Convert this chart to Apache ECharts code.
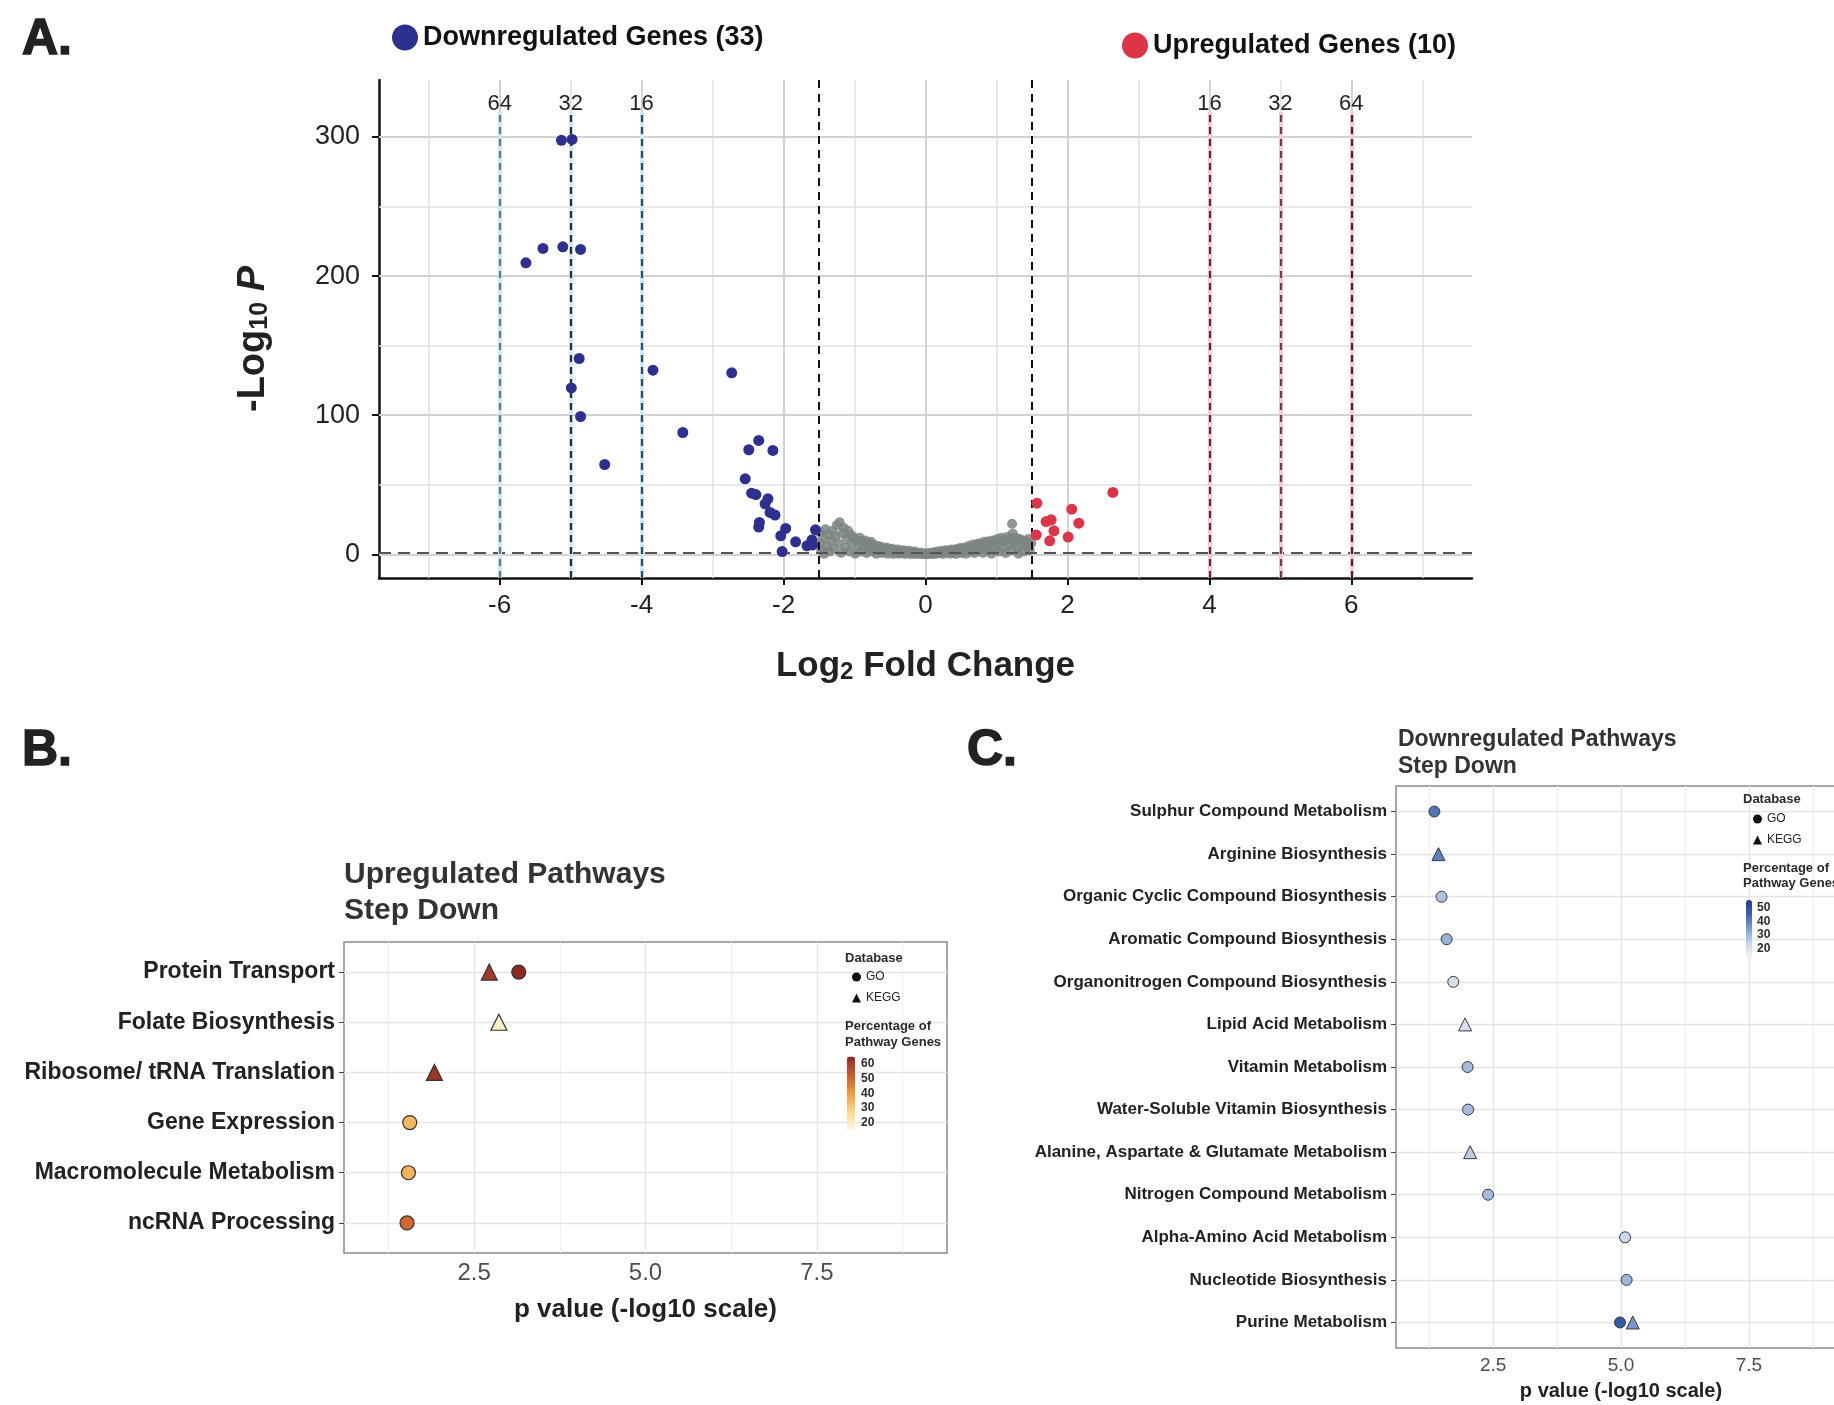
<!DOCTYPE html>
<html>
<head>
<meta charset="utf-8">
<title>Volcano plot and pathway enrichment</title>
<script src="https://cdn.jsdelivr.net/npm/echarts@6/dist/echarts.min.js"></script>
<style>
  html, body { margin: 0; padding: 0; background: #fff; }
  #chart { width: 1834px; height: 1405px; }
</style>
</head>
<body>
<div id="chart"></div>
<script>
// ---------- Panel A: volcano plot ----------
// [log2 fold change, -log10 p]
const downGenes = [
  [-5.13, 297.6], [-4.98, 298.3], [-5.63, 209.6], [-5.39, 219.9], [-5.11, 221.1],
  [-4.86, 219.2], [-4.88, 140.8], [-3.84, 132.4], [-2.73, 130.5], [-4.99, 119.6],
  [-4.86, 99.1], [-3.42, 87.6], [-4.52, 64.6], [-2.35, 81.9], [-2.49, 75.2],
  [-2.15, 74.7], [-2.54, 54.3], [-2.45, 44.0], [-2.39, 43.0], [-2.22, 39.9],
  [-2.26, 36.3], [-2.19, 30.1], [-2.12, 28.2], [-2.34, 22.9], [-2.35, 19.6],
  [-1.97, 18.6], [-2.04, 13.3], [-1.83, 9.0], [-2.02, 2.0], [-1.67, 6.1],
  [-1.60, 10.4], [-1.55, 17.6], [-1.59, 6.8]
]
const upGenes = [
  [1.57, 36.8], [1.56, 14.0], [1.70, 23.6], [1.77, 24.8], [1.81, 16.9],
  [1.75, 9.7], [2.06, 32.5], [2.16, 22.4], [2.01, 12.4], [2.64, 44.5]
]
const nsGenes = [
  [-1.49, 16], [-1.48, 8], [-1.47, 3], [-1.45, 12], [-1.43, 0.5], [-1.41, 18], [-1.39, 6],
  [-1.37, 14], [-1.35, 2], [-1.33, 10], [-1.31, 17], [-1.29, 4], [-1.27, 13], [-1.25, 21],
  [-1.23, 8], [-1.21, 23], [-1.19, 1], [-1.17, 15], [-1.15, 19], [-1.13, 5], [-1.11, 11],
  [-1.09, 17], [-1.07, 2], [-1.05, 14], [-1.03, 8], [-1.01, 12], [-0.99, 0.5], [-0.97, 10],
  [-0.95, 5], [-0.93, 12], [-0.91, 2], [-0.89, 9], [-0.87, 6], [-0.85, 10], [-0.83, 1],
  [-0.81, 8], [-0.79, 4], [-0.77, 9], [-0.75, 2], [-0.73, 7], [-0.71, 4.5], [-0.69, 0.5],
  [-0.67, 6], [-0.65, 3], [-0.63, 5.5], [-0.61, 1], [-0.59, 4], [-0.57, 2], [-0.55, 5],
  [-0.53, 0.5], [-0.51, 3.5], [-0.49, 1.5], [-0.47, 4], [-0.45, 0.3], [-0.43, 3], [-0.41, 1.5],
  [-0.39, 3.5], [-0.37, 0.5], [-0.35, 2.5], [-0.33, 1], [-0.31, 3], [-0.29, 0.2], [-0.27, 2],
  [-0.25, 1], [-0.23, 2.5], [-0.21, 0.3], [-0.19, 1.5], [-0.17, 0.5], [-0.15, 2], [-0.13, 0.2],
  [-0.11, 1], [-0.09, 0.5], [-0.07, 1.2], [-0.05, 0.1], [-0.03, 0.8], [-0.01, 0.3], [0.01, 0.5],
  [0.03, 0.1], [0.05, 1], [0.07, 0.3], [0.09, 1.2], [0.11, 0.2], [0.13, 1.5], [0.15, 0.5],
  [0.17, 2], [0.19, 0.8], [0.21, 1.5], [0.23, 2.5], [0.25, 0.3], [0.27, 2], [0.29, 3],
  [0.31, 1], [0.33, 2.5], [0.35, 0.5], [0.37, 3.5], [0.39, 1.5], [0.41, 3], [0.43, 0.3],
  [0.45, 4], [0.47, 2], [0.49, 4.5], [0.51, 1], [0.53, 3.5], [0.55, 5], [0.57, 0.5],
  [0.59, 4], [0.61, 6], [0.63, 2], [0.65, 5], [0.67, 7], [0.69, 1], [0.71, 4], [0.73, 7.5],
  [0.75, 3], [0.77, 8], [0.79, 5.5], [0.81, 1], [0.83, 9], [0.85, 6], [0.87, 3], [0.89, 9.5],
  [0.91, 7], [0.93, 0.5], [0.95, 10], [0.97, 4], [0.99, 8], [1.01, 11], [1.03, 2], [1.05, 9],
  [1.07, 12], [1.09, 5], [1.11, 10], [1.13, 1], [1.15, 12.5], [1.17, 7], [1.19, 11], [1.21, 3],
  [1.22, 22], [1.23, 15], [1.25, 9], [1.27, 12], [1.29, 5], [1.31, 0.5], [1.33, 11], [1.35, 7],
  [1.37, 10], [1.39, 2], [1.41, 9], [1.43, 6], [1.45, 11], [1.47, 3], [1.49, 8]
]
const foldLinesDown = [-6, -5, -4]
const foldLabelsDown = ['64', '32', '16']
const foldLinesUp = [4, 5, 6]
const foldLabelsUp = ['16', '32', '64']
const log2Cutoff = 1.5
const pCutoff = 1.3
const volcanoXTicks = [-6, -4, -2, 0, 2, 4, 6]
const volcanoXMinor = [-7, -5, -3, -1, 1, 3, 5, 7]
const volcanoYTicks = [0, 100, 200, 300]
const volcanoYMinor = [50, 150, 250]

// ---------- Panel B: upregulated pathways ----------
const upPathways = [
  'Protein Transport', 'Folate Biosynthesis', 'Ribosome/ tRNA Translation',
  'Gene Expression', 'Macromolecule Metabolism', 'ncRNA Processing'
]
// [p value (-log10), pathway index, percentage of pathway genes]
const upGO = [[3.15, 0, 65], [1.56, 3, 34], [1.54, 4, 35], [1.52, 5, 50]]
const upKEGG = [[2.72, 0, 61], [2.86, 1, 19], [1.92, 2, 62]]
const upPctTicks = [60, 50, 40, 30, 20]

// ---------- Panel C: downregulated pathways ----------
const downPathways = [
  'Sulphur Compound Metabolism', 'Arginine Biosynthesis', 'Organic Cyclic Compound Biosynthesis',
  'Aromatic Compound Biosynthesis', 'Organonitrogen Compound Biosynthesis', 'Lipid Acid Metabolism',
  'Vitamin Metabolism', 'Water-Soluble Vitamin Biosynthesis', 'Alanine, Aspartate & Glutamate Metabolism',
  'Nitrogen Compound Metabolism', 'Alpha-Amino Acid Metabolism', 'Nucleotide Biosynthesis',
  'Purine Metabolism'
]
const downGO = [
  [1.35, 0, 42], [1.49, 2, 28], [1.59, 3, 31], [1.72, 4, 21], [2.00, 6, 29],
  [2.01, 7, 29], [2.40, 9, 29], [5.08, 10, 23], [5.11, 11, 30], [4.98, 12, 48]
]
const downKEGG = [[1.43, 1, 40], [1.95, 5, 21], [2.05, 8, 26], [5.23, 12, 36]]
const downPctTicks = [50, 40, 30, 20]

const pathwayXTicks = [2.5, 5, 7.5]
const pathwayXMinor = [1.25, 3.75, 6.25, 8.75]

// ---------- layout ----------
const FONT = '"Liberation Sans", Arial, Helvetica, sans-serif'
const downLabel = `Downregulated Genes (${downGenes.length})`
const upLabel = `Upregulated Genes (${upGenes.length})`

const majorGrid = { color: '#d2d2d2', width: 2, type: 'solid' }
const minorGrid = { color: '#e0e0e0', width: 1.5, type: 'solid' }
const pMajor = { color: '#e4e4e4', width: 1.3, type: 'solid' }
const pMinor = { color: '#efefef', width: 1, type: 'solid' }

const upBar = { top: 1056.6, height: 73.5, min: 15, max: 65 }
const downBar = { top: 900, height: 58, min: 13, max: 56 }

function lineLayer (axisIndex, data, z) {
  return {
    type: 'scatter', xAxisIndex: axisIndex, yAxisIndex: axisIndex, data: [], silent: true,
    markLine: {
      silent: true, z, animation: false, symbol: ['none', 'none'],
      label: { show: false }, data
    }
  }
}

function gridData (xs, ys, style) {
  return [
    ...xs.map(v => ({ xAxis: v, lineStyle: style })),
    ...ys.map(v => ({ yAxis: v, lineStyle: style }))
  ]
}

// fold-change lines: light halo under a dark dashed line, label at the top
function foldData (xs, labels, halo, dash) {
  const out = []
  xs.forEach(x => {
    out.push([{ coord: [x, -17], lineStyle: { color: halo, width: 4, type: 'solid' } }, { coord: [x, 318] }])
  })
  xs.forEach((x, i) => {
    out.push([{
      coord: [x, -17], name: labels[i],
      lineStyle: { color: dash[i], width: 2.2, type: [7, 5] },
      label: { show: true, position: 'end', formatter: '{b}', fontSize: 22, color: '#222', distance: -3, fontFamily: FONT }
    }, { coord: [x, 318] }])
  })
  return out
}

function barY (bar, v) {
  return bar.top + (bar.max - v) / (bar.max - bar.min) * bar.height
}

function smallText (x, y, text, size) {
  return {
    type: 'text', x, y, z: 20, silent: true,
    style: { text, fontSize: size || 13, fontWeight: 'bold', fill: '#2a2a2a', fontFamily: FONT, verticalAlign: 'middle' }
  }
}

const chart = echarts.init(document.getElementById('chart'), null, { renderer: 'canvas' })

const pathwayXAxis = (gridIndex, fontSize, nameSize, nameGap) => ({
  gridIndex, type: 'value', min: 0.6, max: 9.4,
  splitLine: { show: false },
  axisLine: { show: false },
  axisTick: { show: true, length: 5, lineStyle: { color: '#444' }, customValues: pathwayXTicks },
  axisLabel: { customValues: pathwayXTicks, formatter: v => v.toFixed(1), fontSize, color: '#4d4d4d', margin: 8 },
  name: 'p value (-log10 scale)', nameLocation: 'middle', nameGap,
  nameTextStyle: { fontSize: nameSize, fontWeight: 'bold', color: '#222' }
})

const pathwayYAxis = (gridIndex, cats, fontSize) => {
  const idx = cats.map((c, i) => i)
  return {
    gridIndex, type: 'value', min: -0.6, max: cats.length - 0.4, inverse: true,
    splitLine: { show: false },
    axisLine: { show: false },
    axisTick: { show: true, length: 5, lineStyle: { color: '#444' }, customValues: idx },
    axisLabel: { customValues: idx, formatter: v => cats[Math.round(v)], fontSize, fontWeight: 'bold', color: '#222', margin: 9 }
  }
}

const letterStyle = { fontSize: 50, fontWeight: 'bold', color: '#222', textBorderColor: '#222', textBorderWidth: 1.5 }

const option = {
  animation: false,
  backgroundColor: '#fff',
  textStyle: { fontFamily: FONT },
  title: [
    { text: 'A.', left: 22, top: 15, padding: 0, textStyle: letterStyle },
    { text: 'B.', left: 22, top: 726, padding: 0, textStyle: letterStyle },
    { text: 'C.', left: 967, top: 726, padding: 0, textStyle: letterStyle },
    { text: 'Upregulated Pathways\nStep Down', left: 344, top: 857, padding: 0,
      textStyle: { fontSize: 30, lineHeight: 36, fontWeight: 'bold', color: '#333' } },
    { text: 'Downregulated Pathways\nStep Down', left: 1398, top: 726, padding: 0,
      textStyle: { fontSize: 23, lineHeight: 27, fontWeight: 'bold', color: '#333' } }
  ],
  legend: [
    { data: [downLabel], left: 392, top: 24, padding: 0, icon: 'circle', itemWidth: 26, itemHeight: 26,
      selectedMode: false, textStyle: { fontSize: 27, fontWeight: 'bold', color: '#111' } },
    { data: [upLabel], left: 1122, top: 32, padding: 0, icon: 'circle', itemWidth: 26, itemHeight: 26,
      selectedMode: false, textStyle: { fontSize: 27, fontWeight: 'bold', color: '#111' } },
    { data: [
        { name: 'GO', icon: 'circle', itemStyle: { color: '#111', borderWidth: 0 } },
        { name: 'KEGG', icon: 'triangle', itemStyle: { color: '#111', borderWidth: 0 } }
      ],
      orient: 'vertical', left: 852, top: 971, padding: 0, itemWidth: 9, itemHeight: 9, itemGap: 9,
      selectedMode: false, textStyle: { fontSize: 12, color: '#222' } },
    { data: [
        { name: 'GO', icon: 'circle', itemStyle: { color: '#111', borderWidth: 0 } },
        { name: 'KEGG', icon: 'triangle', itemStyle: { color: '#111', borderWidth: 0 } }
      ],
      orient: 'vertical', left: 1753, top: 813, padding: 0, itemWidth: 9, itemHeight: 9, itemGap: 9,
      selectedMode: false, textStyle: { fontSize: 12, color: '#222' } }
  ],
  visualMap: [
    { type: 'continuous', seriesIndex: [6, 7], dimension: 2, min: upBar.min, max: upBar.max,
      orient: 'vertical', left: 847, top: upBar.top, itemWidth: 8, itemHeight: upBar.height,
      padding: 0, calculable: false, hoverLink: false,
      inRange: { color: ['#fffbe6', '#fbd88a', '#ee9a3a', '#cc5a2e', '#8c2a22'] } },
    { type: 'continuous', seriesIndex: [9, 10], dimension: 2, min: downBar.min, max: downBar.max,
      orient: 'vertical', left: 1746, top: downBar.top, itemWidth: 6, itemHeight: downBar.height,
      padding: 0, calculable: false, hoverLink: false,
      inRange: { color: ['#f5f7fb', '#c9d6ea', '#7f9fd0', '#3d63ad', '#1f3c8c'] } }
  ],
  graphic: [
    smallText(845, 958, 'Database'),
    smallText(845, 1026, 'Percentage of'),
    smallText(845, 1042, 'Pathway Genes'),
    ...upPctTicks.map(v => smallText(861, barY(upBar, v), String(v), 12)),
    smallText(1743, 799, 'Database'),
    smallText(1743, 868, 'Percentage of'),
    smallText(1743, 883, 'Pathway Genes'),
    ...downPctTicks.map(v => smallText(1757, barY(downBar, v), String(v), 12))
  ],
  grid: [
    { left: 379, top: 80, width: 1093, height: 498, outerBoundsMode: 'none' },
    { left: 344, top: 942, width: 603, height: 311, outerBoundsMode: 'none',
      show: true, borderColor: '#8a8a8a', borderWidth: 1.5, backgroundColor: '#fff' },
    { left: 1396, top: 786, width: 450, height: 562, outerBoundsMode: 'none',
      show: true, borderColor: '#8a8a8a', borderWidth: 1.5, backgroundColor: '#fff' }
  ],
  xAxis: [
    { gridIndex: 0, type: 'value', min: -7.7, max: 7.7,
      splitLine: { show: false },
      axisLine: { show: true, onZero: false, lineStyle: { color: '#111', width: 2.5 } },
      axisTick: { show: true, length: 7, lineStyle: { color: '#111', width: 2 }, customValues: volcanoXTicks },
      axisLabel: { customValues: volcanoXTicks, fontSize: 26, color: '#222', margin: 15 },
      name: '{a|Log}{s|2}{a| Fold Change}', nameLocation: 'middle', nameGap: 71,
      nameTextStyle: { color: '#222', rich: {
        a: { fontSize: 35, fontWeight: 'bold', color: '#222', fontFamily: FONT },
        s: { fontSize: 24, fontWeight: 'bold', color: '#222', verticalAlign: 'bottom', lineHeight: 14, fontFamily: FONT }
      } } },
    pathwayXAxis(1, 24, 26, 44),
    pathwayXAxis(2, 19, 20, 33)
  ],
  yAxis: [
    { gridIndex: 0, type: 'value', min: -17, max: 341,
      splitLine: { show: false },
      axisLine: { show: true, onZero: false, lineStyle: { color: '#111', width: 2.5 } },
      axisTick: { show: true, length: 7, lineStyle: { color: '#111', width: 2 }, customValues: volcanoYTicks },
      axisLabel: { customValues: volcanoYTicks, fontSize: 27, color: '#222', margin: 19 },
      name: '{a|-Log}{s|10}{p| P}', nameLocation: 'middle', nameRotate: 90, nameGap: 106,
      nameTextStyle: { color: '#222', padding: [0, 20, 0, 0], rich: {
        a: { fontSize: 38, fontWeight: 'bold', color: '#222', fontFamily: FONT },
        s: { fontSize: 25, fontWeight: 'bold', color: '#222', verticalAlign: 'bottom', lineHeight: 14, fontFamily: FONT },
        p: { fontSize: 38, color: '#222', fontStyle: 'italic', fontWeight: 'bold', fontFamily: FONT }
      } } },
    pathwayYAxis(1, upPathways, 23),
    pathwayYAxis(2, downPathways, 17)
  ],
  series: [
    // 0: volcano grid
    lineLayer(0, [
      ...gridData(volcanoXMinor, volcanoYMinor, minorGrid),
      ...gridData(volcanoXTicks, volcanoYTicks, majorGrid)
    ], 1),
    // 1-3: genes
    { name: 'NS', type: 'scatter', xAxisIndex: 0, yAxisIndex: 0, data: nsGenes, symbolSize: 10,
      itemStyle: { color: '#7d8581', opacity: 0.85 }, z: 2 },
    { name: downLabel, type: 'scatter', xAxisIndex: 0, yAxisIndex: 0, data: downGenes, symbolSize: 11,
      itemStyle: { color: '#2e3090', opacity: 1 }, z: 4 },
    { name: upLabel, type: 'scatter', xAxisIndex: 0, yAxisIndex: 0, data: upGenes, symbolSize: 11,
      itemStyle: { color: '#dd3448', opacity: 1 }, z: 4 },
    // 4: cutoff lines
    lineLayer(0, [
      { yAxis: pCutoff, lineStyle: { color: '#555', width: 2, type: [12, 7] } },
      { xAxis: -log2Cutoff, lineStyle: { color: '#111', width: 2, type: [8, 6] } },
      { xAxis: log2Cutoff, lineStyle: { color: '#111', width: 2, type: [8, 6] } },
      ...foldData(foldLinesDown, foldLabelsDown, '#cfe8f3', ['#4d7fa0', '#1f2f45', '#2f4a66']),
      ...foldData(foldLinesUp, foldLabelsUp, '#f6ccd2', ['#5a2a3a', '#7a3a4a', '#4a2030'])
    ], 3),
    // 5-7: upregulated pathways
    lineLayer(1, [
      ...gridData(pathwayXMinor, [], pMinor),
      ...gridData(pathwayXTicks, upPathways.map((c, i) => i), pMajor)
    ], 1),
    { name: 'GO', type: 'scatter', xAxisIndex: 1, yAxisIndex: 1, data: upGO, symbol: 'circle', symbolSize: 14,
      itemStyle: { borderColor: '#333', borderWidth: 1.2, opacity: 1 }, z: 3 },
    { name: 'KEGG', type: 'scatter', xAxisIndex: 1, yAxisIndex: 1, data: upKEGG, symbol: 'triangle', symbolSize: 16,
      itemStyle: { borderColor: '#333', borderWidth: 1.2, opacity: 1 }, z: 3 },
    // 8-10: downregulated pathways
    lineLayer(2, [
      ...gridData(pathwayXMinor, [], pMinor),
      ...gridData(pathwayXTicks, downPathways.map((c, i) => i), pMajor)
    ], 1),
    { name: 'GO', type: 'scatter', xAxisIndex: 2, yAxisIndex: 2, data: downGO, symbol: 'circle', symbolSize: 11,
      itemStyle: { borderColor: '#3a3a3a', borderWidth: 1, opacity: 1 }, z: 3 },
    { name: 'KEGG', type: 'scatter', xAxisIndex: 2, yAxisIndex: 2, data: downKEGG, symbol: 'triangle', symbolSize: 13,
      itemStyle: { borderColor: '#3a3a3a', borderWidth: 1, opacity: 1 }, z: 3 }
  ]
}

chart.setOption(option)
</script>
</body>
</html>
